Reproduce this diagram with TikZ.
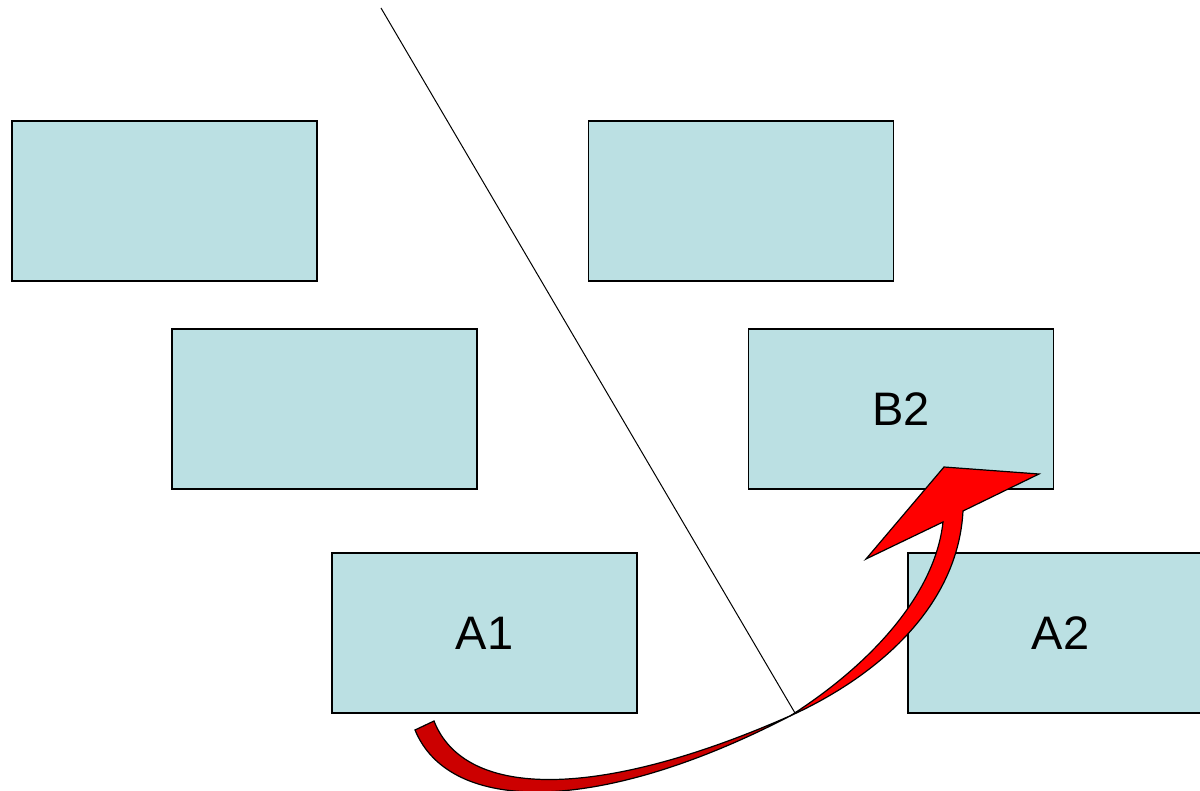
\documentclass[tikz,border=0pt]{standalone}
\usepackage{fontspec}
\setmainfont{Liberation Sans}
\definecolor{boxfill}{RGB}{187,224,227}
\definecolor{darkred}{RGB}{204,0,0}
\begin{document}
\begin{tikzpicture}[x=0.5pt,y=-0.5pt,
  panel/.style={draw=black,fill=boxfill,line width=0.75pt,rectangle,inner sep=0pt,
    minimum width=152.5pt,minimum height=80pt,
    font=\fontsize{23.5}{28}\selectfont},
  arrowpart/.style={draw=black,line width=0.6pt,line join=miter}]
\clip (0,0) rectangle (1200,791);
\fill[white] (0,0) rectangle (1200,791);
\node[panel] (b1) at (164.5,201) {};
\node[panel] (b2) at (741,201) {};
\node[panel] (b3) at (324.5,409) {};
\node[panel] (B2) at (901,409) {B2};
\node[panel] (A1) at (484.5,633) {A1};
\node[panel] (A2) at (1060.5,633) {A2};
\coordinate (ltop) at (381,8);
\coordinate (lbot) at (795,713);
\draw[line width=0.5pt] (ltop) -- (lbot);
% dark tail part of the curved arrow
\filldraw[arrowpart,fill=darkred]
  (415,730) .. controls (450,815) and (600,815) .. (792,715)
  .. controls (600,800) and (465,800) .. (434,721) -- cycle;
% bright head part of the curved arrow
\filldraw[arrowpart,fill=red]
  (790,716) .. controls (870,665) and (935,595) .. (943,522)
  -- (866,559) -- (944,467) -- (1039,474) -- (963,511)
  .. controls (958,605) and (880,675) .. (790,716) -- cycle;
\end{tikzpicture}
\end{document}
